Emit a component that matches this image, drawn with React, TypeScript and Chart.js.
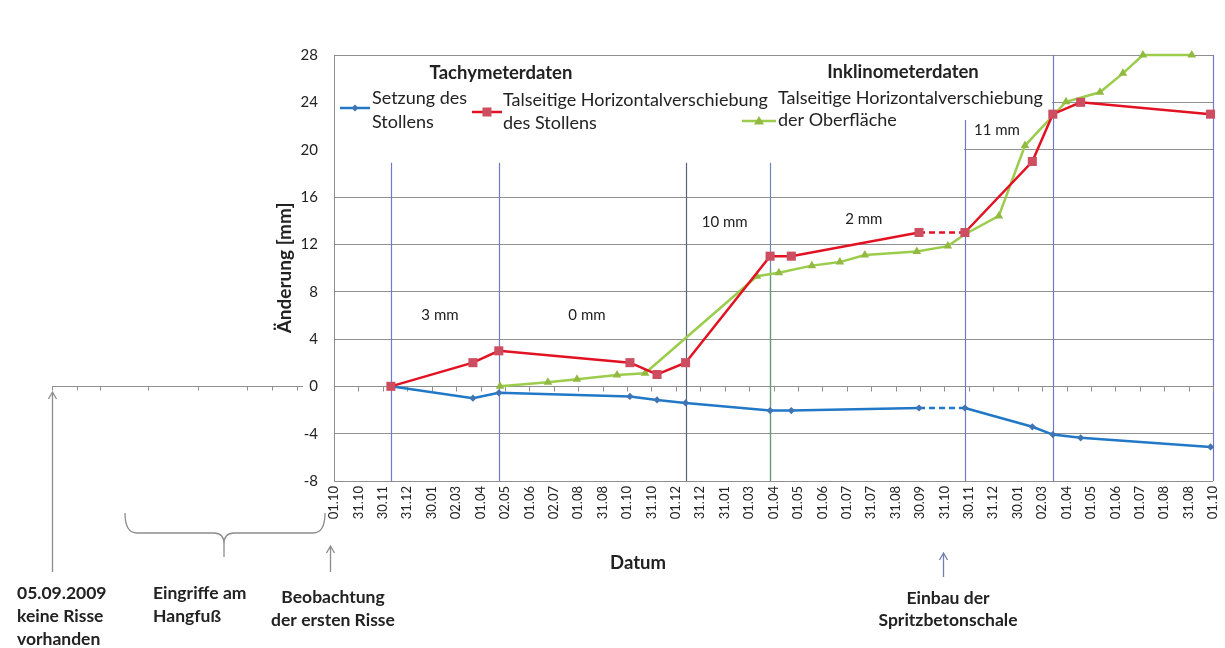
import React, { useEffect, useRef } from "react";
import { Chart, registerables } from "chart.js";

Chart.register(...registerables);

// Axis tick labels (one label per ~30.4 day step, starting 01.10.2009)
const xTickLabels = [
  "01.10", "31.10", "30.11", "31.12", "30.01", "02.03", "01.04", "02.05", "01.06", "02.07",
  "01.08", "31.08", "01.10", "31.10", "01.12", "31.12", "31.01", "01.03", "01.04", "01.05",
  "01.06", "01.07", "31.07", "31.08", "30.09", "31.10", "30.11", "31.12", "30.01", "02.03",
  "01.04", "01.05", "01.06", "01.07", "01.08", "31.08", "01.10",
];
const yMin = -8;
const yMax = 28;
const yStep = 4;

// Tachymeter survey epochs (position on the time axis, in label steps)
const tachyTimes = [2.33, 5.69, 6.75, 12.12, 13.23, 14.4, 17.86, 18.73, 23.96, 25.84, 28.6, 29.44, 30.58, 35.9];
// Settlement of the gallery [mm]
const settlement = [0, -1.0, -0.55, -0.85, -1.15, -1.4, -2.05, -2.05, -1.83, -1.83, -3.42, -4.08, -4.35, -5.12];
// Valley-side horizontal displacement of the gallery [mm]
const tunnelShift = [0, 2, 3, 2, 1, 2, 11, 11, 13, 13, 19, 23, 24, 23];

// Inclinometer readings
const inclTimes = [6.8, 8.76, 9.95, 11.59, 12.74, 17.32, 18.22, 19.57, 20.72, 21.74, 23.87, 25.14, 25.84, 27.23, 28.3, 29.98, 31.37, 32.31, 33.13, 35.13];
// Valley-side horizontal displacement of the surface [mm]
const surfaceShift = [0, 0.35, 0.6, 0.95, 1.1, 9.3, 9.6, 10.2, 10.5, 11.1, 11.4, 11.85, 12.85, 14.4, 20.35, 24.05, 24.85, 26.45, 28, 28];

// Segment without measurements in between (drawn dashed)
const gapSegment = 8;

// Phase boundaries: indices into tachyTimes, and the value where each line starts
const boundaryIdx = [0, 2, 5, 6, 9, 11];
const boundaryTop = [18.9, 18.9, 18.9, 18.9, 22.5, 28];
const boundaryColor = ["#7078c8", "#7078c8", "#5a6278", "#6a86b8", "#7078c8", "#7078c8"];

// Displacement per phase
const phaseLabels = ["3 mm", "0 mm", "10 mm", "2 mm", "11 mm"];
const phaseLabelX = [4.34, 10.36, 16.0, 21.7, 27.15];
const phaseLabelY = [6.0, 6.0, 13.9, 14.1, 21.65];

const TEXT = "#222222";
const GRID = "#8f8f8f";
const RED = "rgb(226,18,34)";
const RED_PT = "rgb(204,78,96)";
const GREEN = "rgb(156,204,76)";
const GREEN_PT = "rgb(146,186,66)";
const BLUE = "rgb(32,120,198)";
const BLUE_PT = "rgb(64,116,178)";
const FONT = "Lato";

function drawMarker(ctx: CanvasRenderingContext2D, style: string, x: number, y: number, color: string) {
  ctx.save();
  ctx.fillStyle = color;
  ctx.beginPath();
  if (style === "rect") {
    ctx.rect(x - 4.5, y - 4.5, 9, 9);
  } else if (style === "triangle") {
    ctx.moveTo(x, y - 5);
    ctx.lineTo(x + 5, y + 3.5);
    ctx.lineTo(x - 5, y + 3.5);
    ctx.closePath();
  } else {
    ctx.moveTo(x, y - 3.5);
    ctx.lineTo(x + 3.5, y);
    ctx.lineTo(x, y + 3.5);
    ctx.lineTo(x - 3.5, y);
    ctx.closePath();
  }
  ctx.fill();
  ctx.restore();
}

function legendEntry(ctx: CanvasRenderingContext2D, x0: number, x1: number, ly: number, color: string,
  ptColor: string, style: string, tx: number, lines: string[], ty: number[]) {
  ctx.save();
  ctx.strokeStyle = color;
  ctx.lineWidth = 2.5;
  ctx.beginPath();
  ctx.moveTo(x0, ly);
  ctx.lineTo(x1, ly);
  ctx.stroke();
  drawMarker(ctx, style, (x0 + x1) / 2, ly, ptColor);
  ctx.fillStyle = TEXT;
  ctx.font = `18px ${FONT}`;
  ctx.textAlign = "left";
  ctx.textBaseline = "middle";
  lines.forEach((t, i) => ctx.fillText(t, tx, ty[i]));
  ctx.restore();
}

function arrowUp(ctx: CanvasRenderingContext2D, x: number, yFrom: number, yTo: number, color: string) {
  ctx.save();
  ctx.strokeStyle = color;
  ctx.lineWidth = 1.3;
  ctx.beginPath();
  ctx.moveTo(x, yFrom);
  ctx.lineTo(x, yTo);
  ctx.moveTo(x - 4, yTo + 7);
  ctx.lineTo(x, yTo);
  ctx.lineTo(x + 4, yTo + 7);
  ctx.stroke();
  ctx.restore();
}

function textLines(ctx: CanvasRenderingContext2D, lines: string[], x: number, ys: number[], align: CanvasTextAlign) {
  ctx.textAlign = align;
  lines.forEach((t, i) => ctx.fillText(t, x, ys[i]));
}

const overlayPlugin = {
  id: "overlay",
  beforeDatasetsDraw(chart: any) {
    const { ctx, chartArea: ca, scales } = chart;
    const xs = scales.x;
    const ys = scales.y;
    ctx.save();

    // legend panels hide the gridlines behind them
    ctx.fillStyle = "#ffffff";
    ctx.fillRect(ca.left + 1, ca.top + 2, 1052 - ca.left - 1, 113 - ca.top - 2);
    ctx.fillRect(ca.left + 1, ca.top + 2, 964 - ca.left - 1, 165 - ca.top - 2);

    // phase boundaries
    ctx.lineWidth = 1.2;
    boundaryIdx.forEach((bi, k) => {
      const px = Math.round(xs.getPixelForValue(tachyTimes[bi])) + 0.5;
      const top = ys.getPixelForValue(boundaryTop[k]);
      ctx.strokeStyle = boundaryColor[k];
      ctx.beginPath();
      ctx.moveTo(px, top);
      ctx.lineTo(px, ca.bottom);
      ctx.stroke();
      if (k === 3) {
        ctx.strokeStyle = "#5fa070";
        ctx.beginPath();
        ctx.moveTo(px, ys.getPixelForValue(10));
        ctx.lineTo(px, ca.bottom);
        ctx.stroke();
      }
    });
    ctx.strokeStyle = "#7078c8";
    ctx.beginPath();
    ctx.moveTo(ca.right + 0.5, ca.top);
    ctx.lineTo(ca.right + 0.5, ca.bottom);
    ctx.stroke();

    // time axis drawn along the zero line, with tick marks
    const y0 = Math.round(ys.getPixelForValue(0)) + 0.5;
    ctx.strokeStyle = GRID;
    ctx.lineWidth = 1;
    ctx.beginPath();
    for (let i = 0; i < xTickLabels.length; i++) {
      const px = Math.round(xs.getPixelForValue(i)) + 0.5;
      ctx.moveTo(px, y0);
      ctx.lineTo(px, y0 + 5);
    }
    // extension of the time axis back to 05.09.2009
    ctx.moveTo(52, y0);
    ctx.lineTo(303, y0);
    [52, 77, 100, 148, 198, 247, 272, 297].forEach((t) => {
      ctx.moveTo(t + 0.5, y0);
      ctx.lineTo(t + 0.5, y0 + 4);
    });
    ctx.stroke();

    // displacement per phase
    ctx.fillStyle = TEXT;
    ctx.font = `15px ${FONT}`;
    ctx.textAlign = "center";
    ctx.textBaseline = "middle";
    phaseLabels.forEach((t, i) => {
      ctx.fillText(t, xs.getPixelForValue(phaseLabelX[i]), ys.getPixelForValue(phaseLabelY[i]));
    });
    ctx.restore();
  },
  afterDraw(chart: any) {
    const { ctx } = chart;
    ctx.save();
    ctx.fillStyle = TEXT;
    ctx.textBaseline = "middle";

    // legend
    ctx.font = `bold 18.5px ${FONT}`;
    ctx.textAlign = "center";
    ctx.fillText("Tachymeterdaten", 501, 73);
    ctx.fillText("Inklinometerdaten", 903, 72);
    legendEntry(ctx, 340, 370, 108, BLUE, BLUE_PT, "rectRot", 372, ["Setzung des", "Stollens"], [98, 122]);
    legendEntry(ctx, 472, 502, 112, RED, RED_PT, "rect", 503, ["Talseitige Horizontalverschiebung", "des Stollens"], [100, 123]);
    legendEntry(ctx, 742, 776, 121, GREEN, GREEN_PT, "triangle", 778, ["Talseitige Horizontalverschiebung", "der Oberfläche"], [98, 120]);

    // axis title below the dates
    ctx.fillStyle = TEXT;
    ctx.font = `bold 18.5px ${FONT}`;
    ctx.textAlign = "center";
    ctx.fillText("Datum", 638, 563);

    // events below the time axis
    ctx.font = `bold 17.5px ${FONT}`;
    textLines(ctx, ["05.09.2009", "keine Risse", "vorhanden"], 17, [593, 616, 639], "left");
    textLines(ctx, ["Eingriffe am", "Hangfuß"], 153, [593, 616], "left");
    textLines(ctx, ["Beobachtung", "der ersten Risse"], 333, [597, 620], "center");
    textLines(ctx, ["Einbau der", "Spritzbetonschale"], 948, [598, 620], "center");

    arrowUp(ctx, 52.5, 572, 392, "#8c8c8c");
    arrowUp(ctx, 330.5, 572, 546, "#8c8c8c");
    arrowUp(ctx, 943.5, 577, 553, "#7080b0");

    // brace over the slope-toe works
    ctx.strokeStyle = "#8c8c8c";
    ctx.lineWidth = 1.3;
    ctx.beginPath();
    ctx.moveTo(125, 513);
    ctx.quadraticCurveTo(125, 533, 137, 533);
    ctx.lineTo(214, 533);
    ctx.quadraticCurveTo(224, 533, 224, 544);
    ctx.lineTo(224, 557);
    ctx.moveTo(224, 544);
    ctx.quadraticCurveTo(224, 533, 234, 533);
    ctx.lineTo(313, 533);
    ctx.quadraticCurveTo(325, 533, 325, 513);
    ctx.stroke();
    ctx.restore();
  },
};

export default function App() {
  const canvasRef = useRef<HTMLCanvasElement | null>(null);

  useEffect(() => {
    if (!canvasRef.current) return;
    Chart.defaults.font.family = FONT;
    Chart.defaults.color = TEXT;

    const dashGap = (c: any) => (c.p0DataIndex === gapSegment ? [6, 4] : undefined);

    const chart = new Chart(canvasRef.current, {
      type: "line",
      data: {
        datasets: [
          {
            label: "Talseitige Horizontalverschiebung des Stollens",
            data: tachyTimes.map((t, i) => ({ x: t, y: tunnelShift[i] })),
            borderColor: RED,
            borderWidth: 2.5,
            pointStyle: "rect",
            pointRadius: 6.4,
            pointBackgroundColor: RED_PT,
            pointBorderColor: RED_PT,
            pointBorderWidth: 0,
            tension: 0,
            clip: false,
            segment: { borderDash: dashGap },
          },
          {
            label: "Talseitige Horizontalverschiebung der Oberfläche",
            data: inclTimes.map((t, i) => ({ x: t, y: surfaceShift[i] })),
            borderColor: GREEN,
            borderWidth: 2.5,
            pointStyle: "triangle",
            pointRadius: 5,
            pointBackgroundColor: GREEN_PT,
            pointBorderColor: GREEN_PT,
            pointBorderWidth: 0,
            tension: 0,
            clip: false,
          },
          {
            label: "Setzung des Stollens",
            data: tachyTimes.map((t, i) => ({ x: t, y: settlement[i] })),
            borderColor: BLUE,
            borderWidth: 2.5,
            pointStyle: "rectRot",
            pointRadius: 3.6,
            pointBackgroundColor: BLUE_PT,
            pointBorderColor: BLUE_PT,
            pointBorderWidth: 0,
            tension: 0,
            clip: false,
            segment: { borderDash: dashGap },
          },
        ],
      },
      options: {
        animation: false,
        responsive: false,
        events: [],
        layout: { padding: { left: 268, top: 55, right: 12, bottom: 0 } },
        plugins: { legend: { display: false }, tooltip: { enabled: false } },
        scales: {
          x: {
            type: "linear",
            min: 0,
            max: xTickLabels.length - 1,
            afterBuildTicks: (scale: any) => {
              scale.ticks = xTickLabels.map((_, i) => ({ value: i }));
            },
            afterFit: (scale: any) => {
              scale.height = 167;
              scale.paddingLeft = 0;
              scale.paddingRight = 0;
            },
            ticks: {
              autoSkip: false,
              maxRotation: 90,
              minRotation: 90,
              padding: 5,
              color: TEXT,
              font: { size: 13 },
              callback: (v: any) => xTickLabels[Math.round(Number(v))] ?? "",
            },
            grid: { display: false, drawTicks: false },
            border: { display: false },
          },
          y: {
            min: yMin,
            max: yMax,
            afterFit: (scale: any) => {
              scale.width = 66;
            },
            ticks: { stepSize: yStep, padding: 16, color: TEXT, font: { size: 15 } },
            grid: { color: GRID, lineWidth: 1, drawTicks: false },
            border: { display: true, color: GRID },
            title: {
              display: true,
              text: "Änderung [mm]",
              color: TEXT,
              font: { size: 19, weight: "bold" },
              padding: { top: 5, bottom: 0 },
            },
          },
        },
      },
      plugins: [overlayPlugin],
    } as any);

    return () => chart.destroy();
  }, []);

  return (
    <div style={{ position: "absolute", left: 0, top: 0, width: 1225, height: 648, background: "#fff" }}>
      <canvas ref={canvasRef} width={1225} height={648} style={{ display: "block" }} />
    </div>
  );
}
